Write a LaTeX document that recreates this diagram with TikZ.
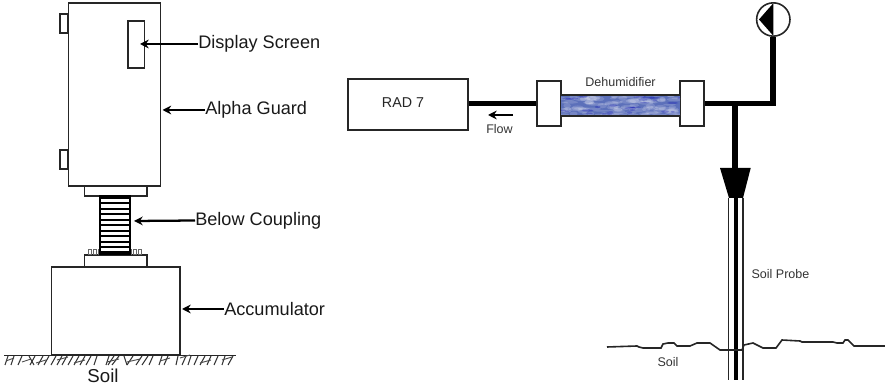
\documentclass[tikz,border=0pt]{standalone}
\usepackage{fontspec}
\setmainfont{Liberation Sans}
\usetikzlibrary{arrows.meta}
\definecolor{tubeblue}{RGB}{92,112,186}
\tikzset{
	part/.style={draw=black!85, fill=white, line width=1.2pt, rectangle, inner sep=0pt},
	leader/.style={line width=1.7pt, -{Stealth[length=6.5pt,width=6.5pt]}},
	pipe/.style={line width=3.9pt, line cap=butt},
	biglabel/.style={anchor=west, inner sep=0pt, font=\fontsize{13.6}{15}\selectfont, text=black!90},
	smalllabel/.style={inner sep=0pt, font=\fontsize{9.4}{11}\selectfont, text=black!80},
}
\begin{document}
\begin{tikzpicture}[x=0.75pt, y=-0.75pt]
		\useasboundingbox (0,0) rectangle (885,391);

		% --- left: side latches, then the instrument housing ---
		\foreach \yy/\nn in {23.5/latchTop, 159.5/latchLow} {
			\node[part, minimum width=6pt, minimum height=14.2pt] (\nn) at (64,\yy) {};
		}
		\node[part, minimum width=69pt, minimum height=137.2pt] (alpha) at (114.5,94.5) {};
		\node[part, minimum width=12.4pt, minimum height=35.2pt] (screen) at (136.2,44.5) {};

		% --- collars and accumulator ---
		\node[part, minimum width=46.9pt, minimum height=7.5pt] (collar) at (115.7,191) {};
		\node[part, minimum width=96.5pt, minimum height=66pt] (accum) at (115.7,311) {};
		\node[part, minimum width=46.9pt, minimum height=9pt] (flange) at (115.7,261) {};

		% --- small bolts on the flange ---
		\foreach \x in {90,95,100,106,112,118,124,130,135,140} {
			\draw[black!60, fill=white, line width=0.5pt] (\x-2,249.5) rectangle (\x+1.5,254.5);
		}
		% --- bellows: sides and rings ---
		\node[part, draw=black, line width=1.7pt, minimum width=22pt, minimum height=43pt] (bellows) at (115,225) {};
		\foreach \y in {198,203.5,209,214.5,220,225.5,231,236.5,242,247.5,252} {
			\draw[line width=1.5pt] (100.5,\y) -- (129.5,\y);
		}

		% --- ground line and hatching ---
		\draw[line width=1.2pt, black!85] (4,355.5) -- (236,355.5);
		\foreach \xa/\xb in {8/5, 14/11, 22/18, 29/34, 35/30, 43/38, 49/44, 56/51, 62/57, 67/62, 73/68, 79/74, 85/80, 91/86, 97/94, 109/106, 114/108, 119/112, 124/127, 133/127, 142/136, 148/142, 153/149, 162/159, 168/164, 178/176, 186/182, 191/188, 198/194, 205/200, 211/207, 218/214, 225/222, 233/228} {
			\draw[black!80, line width=0.8pt] (\xa,356) -- (\xb,365);
		}
		\foreach \xa/\xb/\yy in {6/14/361, 22/31/362, 36/46/363, 57/68/360, 74/85/363, 107/119/362, 127/140/362, 160/170/361, 180/190/358, 200/211/363, 222/232/360} {
			\draw[black!70, line width=0.7pt] (\xa,\yy) -- (\xb,\yy-3);
		}
		\node[inner sep=0pt, font=\fontsize{14}{16}\selectfont, text=black!90] (soilLeft) at (103,376) {Soil};

		% --- left labels and their leaders ---
		\coordinate (tipScreen) at (140,44);
		\coordinate (tipAlpha) at (162.5,110);
		\coordinate (tipBellows) at (134,221);
		\coordinate (tipAccum) at (182,309);
		\node[biglabel] (lblScreen) at (198,44) {Display Screen};
		\node[biglabel] (lblAlpha) at (205,110) {Alpha Guard};
		\node[biglabel] (lblBellows) at (195,220.5) {Below Coupling};
		\node[biglabel] (lblAccum) at (224,309) {Accumulator};
		\draw[leader] (lblScreen.west) -- (tipScreen);
		\draw[leader] (lblAlpha.west) -- (tipAlpha);
		\draw[leader] (lblBellows.west) -- (tipBellows);
		\draw[leader] (lblAccum.west) -- (tipAccum);

		% --- right: pipe run ---
		\node[part, minimum width=90pt, minimum height=38.2pt] (rad) at (408,104.5) {};
		\node[inner sep=0pt, font=\fontsize{10.7}{12}\selectfont, text=black!85] (radText) at (403,103) {RAD 7};
		\coordinate (junction) at (735,103.5);
		\coordinate (elbow) at (773,103.5);
		\coordinate (funnelTop) at (735,170);
		\node[part, minimum width=18pt, minimum height=33.4pt] (dryLeft) at (549,103.5) {};
		\node[part, minimum width=18pt, minimum height=33.4pt] (dryRight) at (692,103.5) {};
		\node[draw=black!85, fill=white, line width=1.2pt, circle, inner sep=0pt, minimum size=25pt] (pump) at (773.3,19.5) {};
		\draw[pipe] (dryLeft.west -| rad.east) -- (dryLeft.west);
		\draw[pipe] (dryRight.east) -- (junction) -- ([xshift=2.6pt]elbow);
		\draw[pipe] (elbow) -- (pump.south -| elbow);
		\draw[pipe] (junction) -- (funnelTop);
		\fill (759,19.5) -- (773.3,3.2) -- (773.3,35.8) -- cycle;

		% --- dehumidifier tube with mottled fill ---
		\begin{scope}
			\clip (561,95) rectangle (680,116);
			\fill[tubeblue] (561,95) rectangle (680,116);
			\pgfmathsetseed{41}
			\foreach \i in {1,...,110} {
				\fill[white, opacity=0.16] ({561+119*rnd},{95+21*rnd}) ellipse ({3+6*rnd} and {0.8+1.8*rnd});
			}
			\foreach \i in {1,...,30} {
				\fill[blue!70!black, opacity=0.25] ({561+119*rnd},{95+21*rnd}) ellipse ({2+4*rnd} and {0.5+0.7*rnd});
			}
		\end{scope}
		\draw[line width=1.3pt, black!85] (561,95) -- (680,95) (561,116) -- (680,116);
		\node[smalllabel] (dryText) at (620.5,82) {Dehumidifier};

		% --- flow arrow ---
		\coordinate (flowStart) at (513,115);
		\coordinate (flowEnd) at (488,115);
		\draw[line width=1.5pt, -{Stealth[length=6.5pt,width=6.5pt]}] (flowStart) -- (flowEnd);
		\node[smalllabel] (flowText) at (499.5,129) {Flow};

		% --- funnel and soil probe ---
		\fill (720,168) -- (750.7,168) -- (743,198) -- (729,198) -- cycle;
		\draw[line width=1.1pt, black!85] (728.7,198) -- (728.7,380) (743.2,198) -- (743.2,380);
		\draw[line width=3.4pt] (736.2,198) -- (736.2,380);
		\node[smalllabel] (probeText) at (780.5,274) {Soil Probe};

		% --- soil surface ---
		\draw[line width=1.2pt, black!85] (607,347) -- (637,346) -- (639,347) -- (643,348) -- (661,348) -- (663,344) -- (668,343) -- (674,343) -- (677,346) -- (690,346) -- (697,343) -- (710,343) -- (720,350) -- (742,350) -- (744,345) -- (753,343) -- (763,348) -- (776,348) -- (782,340) -- (800,341) -- (802,342) -- (833,342) -- (837,343) -- (843,343) -- (845,340) -- (848,340) -- (854,346) -- (885,346);
		\node[smalllabel] (soilRight) at (668,362) {Soil};
	\end{tikzpicture}
\end{document}
